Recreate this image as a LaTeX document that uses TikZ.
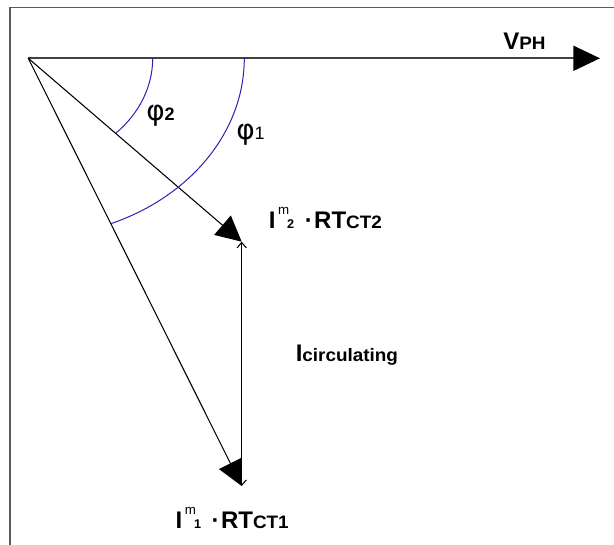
\documentclass[tikz,border=0pt]{standalone}
\usepackage{fontspec}
\setmainfont{Liberation Sans}
\newfontfamily\widesans[FakeStretch=1.05]{Liberation Sans}
\newfontfamily\greeksans{DejaVu Sans}
\usetikzlibrary{arrows.meta}
\definecolor{arcblue}{RGB}{48,32,176}
\definecolor{framegray}{RGB}{90,90,90}
\begin{document}
\begin{tikzpicture}[>=stealth,x=0.75pt,y=-0.75pt]
	\tikzset{phasor label/.style={anchor=base west,inner sep=0pt,font=\fontsize{18pt}{20pt}\selectfont\bfseries},
		big head/.style={line width=0.8pt,-{Triangle[length=19pt,width=19pt]}},
		angle arc/.style={arcblue,line width=0.75pt}}
	\def\subtxt{\widesans\fontsize{13.5pt}{15pt}\selectfont}
	\def\idxtxt{\fontsize{9.5pt}{11pt}\selectfont}
	\def\suptxt{\mdseries\fontsize{10pt}{11pt}\selectfont}
	\def\phitxt{\greeksans\mdseries\fontsize{21pt}{23pt}\selectfont}
	\useasboundingbox (0,0) rectangle (614,545);
	\coordinate (O) at (28.3,58.3);
	\coordinate (Vph) at (600,58.3);
	\coordinate (I2) at (241.7,241.7);
	\coordinate (I1) at (241.7,486);
	\draw[framegray,line width=1.2pt] (10,545) -- (10,7.5) -- (614,7.5);
	\draw[black!75,line width=1.3pt,-{Triangle[length=20pt,width=18.75pt,black]}] (O) -- (Vph);
	\draw[big head] (O) -- (I2);
	\draw[big head] (O) -- (I1);
	\draw[line width=0.8pt,{Straight Barb[length=4pt,width=7pt]}-{Straight Barb[length=4pt,width=7pt]}] (I2) -- (I1);
	\draw[angle arc] (O) ++(124.4,0) arc[start angle=0,end angle=45.4,x radius=124.4,y radius=105.4];
	\draw[angle arc] (O) ++(216,0) arc[start angle=0,end angle=67.5,x radius=216,y radius=179];
	\node[phasor label] (vph) at (503,50) {V{\subtxt PH}};
	\node[phasor label] (phi2) at (146,121) {{\phitxt φ}{\fontsize{13.5pt}{15pt}\selectfont 2}};
	\node[phasor label] (phi1) at (236,140) {{\phitxt φ}{\fontsize{13.5pt}{15pt}\selectfont\mdseries 1}};
	\node[phasor label] (ict2) at (268.5,228.3) {I\hspace{2pt}\raisebox{10pt}{\suptxt m}\hspace{-1.5pt}{\idxtxt 2}\hspace{8pt}·\hspace{1pt}RT{\subtxt CT2}};
	\node[phasor label] (ict1) at (175.3,528.3) {I\hspace{2pt}\raisebox{10pt}{\suptxt m}\hspace{-1.5pt}{\idxtxt 1}\hspace{8pt}·\hspace{1pt}RT{\subtxt CT1}};
	\node[phasor label] (icirc) at (295.5,361.7) {I{\subtxt circulating}};
\end{tikzpicture}
\end{document}
